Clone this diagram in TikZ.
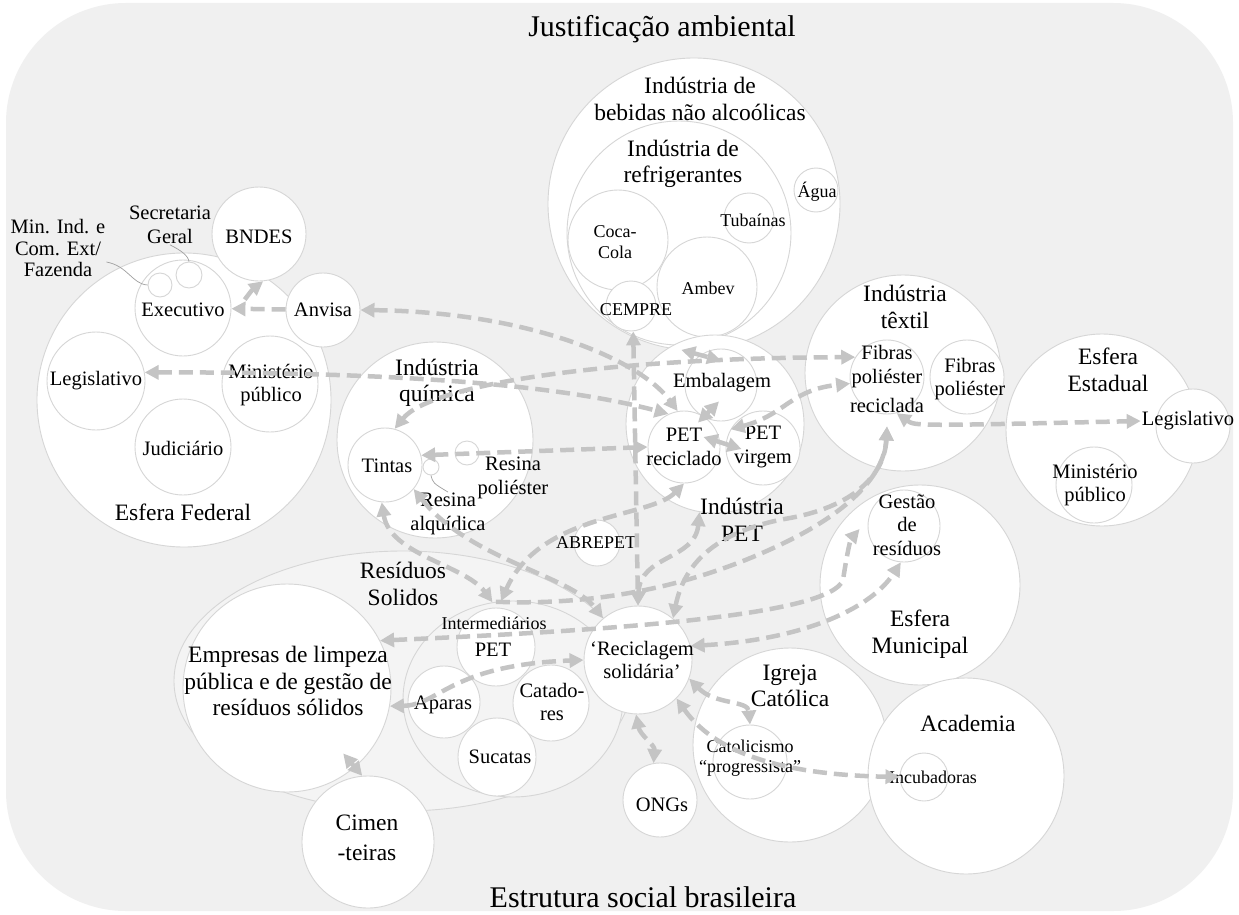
\documentclass[tikz,border=0pt]{standalone}
\usepackage{fontspec}
\setmainfont{Liberation Serif}
\usetikzlibrary{arrows.meta,shapes.geometric}
\definecolor{cloudgray}{RGB}{240,240,240}
\definecolor{wastegray}{RGB}{244,244,244}
\definecolor{rimgray}{RGB}{214,214,214}
\definecolor{flowgray}{RGB}{196,196,196}
\definecolor{leadgray}{RGB}{160,160,160}

\begin{document}
\begin{tikzpicture}[x=1pt, y=-1pt,
  bub/.style={circle, draw=rimgray, fill=white, line width=0.9pt, inner sep=0pt},
  ring/.style={ellipse, draw=rimgray, fill=wastegray, line width=0.9pt, inner sep=0pt},
  ttl/.style={inner sep=1pt, font=\fontsize{30}{34}\selectfont},
  big/.style={align=center, inner sep=1pt, font=\fontsize{23.5}{26.5}\selectfont},
  mid/.style={align=center, inner sep=1pt, font=\fontsize{20.5}{23.5}\selectfont},
  sml/.style={align=center, inner sep=1pt, font=\fontsize{18}{20.5}\selectfont},
  flow/.style={draw=flowgray, line width=4.5pt, dash pattern=on 14pt off 7pt},
  leader/.style={draw=leadgray, line width=0.7pt},
  >={Triangle[length=14pt,width=14pt]}]

% ---- page and cloud ----
% coordinates are pixels of a 1239x915 sheet, y grows downwards
\useasboundingbox (0,0) rectangle (1239,915);
\fill[white] (0,0) rectangle (1239,915);
\fill[cloudgray, rounded corners=120pt] (6,3) rectangle (1233,911);

% ===== ESFERA FEDERAL =====
\node[bub, minimum size=294pt] (fed) at (184,400) {};
\foreach \n/\x/\y/\d in {exec/183/308/96, minA/160/285/24, minB/189/275/26,
    bndes/259/234/94, anvisa/323/310/74, legF/96/381/98, mpF/270/384/96,
    jud/183/447/96} {
  \node[bub, minimum size=\d pt] (\n) at (\x,\y) {};
}

% ===== BEBIDAS NAO ALCOOLICAS =====
\node[bub, minimum size=292pt] (beb) at (694,204) {};
\node[bub, minimum size=224pt] (refr) at (679,233) {};
\foreach \n/\x/\y/\d in {coca/618/240/100, tuba/749/218/50, agua/816/190/44,
    ambev/707/287/100, cempre/631/306/50} {
  \node[bub, minimum size=\d pt] (\n) at (\x,\y) {};
}

% ===== INDUSTRIA PET / TEXTIL / ESTADUAL =====
\node[bub, minimum size=178pt] (pet) at (715,424) {};
\node[bub, minimum size=196pt] (tex) at (903,373) {};
\node[bub, minimum size=192pt] (est) at (1102,430) {};
\foreach \n/\x/\y/\d in {emb/721/385/72, petr/684/447/72, petv/763/448/74,
    fibr/887/377/74, fibp/967/377/74, legE/1193/426/74, mpE/1094/485/76} {
  \node[bub, minimum size=\d pt] (\n) at (\x,\y) {};
}

% ===== INDUSTRIA QUIMICA =====
\node[bub, minimum size=196pt] (qui) at (435,440) {};
\foreach \n/\x/\y/\d in {tintas/385/465/74, rpol/467/453/24, ralq/431/467/16,
    abre/597/543/46} {
  \node[bub, minimum size=\d pt] (\n) at (\x,\y) {};
}

% ===== RESIDUOS SOLIDOS =====
\node[ring, minimum width=458pt, minimum height=260pt] (res) at (403,681) {};
\node[ring, minimum width=220pt, minimum height=196pt] (inter) at (513,699) {};
\foreach \n/\x/\y/\d in {petI/496/647/78, aparas/444/702/72, catad/551/703/76,
    sucatas/497/757/78, emp/287/688/208, cim/368/842/132} {
  \node[bub, minimum size=\d pt] (\n) at (\x,\y) {};
}

% ===== RECICLAGEM AND NEIGHBOURS =====
\foreach \n/\x/\y/\d in {recic/638/660/108, ongs/660/800/74, igreja/790/745/194,
    catol/750/762/74, mun/920/585/200, gest/904/526/72, acad/966/776/196,
    incub/924/777/48} {
  \node[bub, minimum size=\d pt] (\n) at (\x,\y) {};
}

% ---- Labels ----
\node[ttl] (top-t) at (662,29) {Justificação ambiental};
\node[ttl] (bot-t) at (643,897) {Estrutura social brasileira};

\node[big] (fed-t) at (183,512) {Esfera Federal};
\node[mid] (exec-t) at (183,310) {Executivo};
\node[mid, font=\fontsize{20.5}{21.5}\selectfont] (min-t) at (58,248) {Min. Ind. e\\Com. Ext/\\Fazenda};
\node[mid] (sec-t) at (170,225) {Secretaria\\Geral};
\node[mid] (bndes-t) at (259,237) {BNDES};
\node[mid] (anvisa-t) at (323,310) {Anvisa};
\node[mid] (legF-t) at (96,381) {Legislativo};
\node[mid] (mpF-t) at (271,385) {Ministério\\público};
\node[mid] (jud-t) at (183,448) {Judiciário};

\node[big] (beb-t) at (700,99) {Indústria de\\bebidas não alcoólicas};
\node[big] (refr-t) at (683,164) {Indústria de\\refrigerantes};
\node[sml] (coca-t) at (615,242) {Coca-\\Cola};
\node[sml] (tuba-t) at (753,220) {Tubaínas};
\node[sml] (agua-t) at (817,192) {Água};
\node[sml] (ambev-t) at (708,288) {Ambev};
\node[sml] (cempre-t) at (636,310) {CEMPRE};

\node[big] (pet-t) at (742,520) {Indústria\\PET};
\node[mid] (emb-t) at (722,383) {Embalagem};
\node[mid] (petr-t) at (684,447) {PET\\reciclado};
\node[mid] (petv-t) at (763,447) {PET\\virgem};

\node[big] (tex-t) at (905,307) {Indústria\\têxtil};
\node[mid] (fibr-t) at (887,379) {Fibras\\poliéster\\[6pt]reciclada};
\node[mid] (fibp-t) at (970,379) {Fibras\\poliéster};

\node[big] (est-t) at (1108,370) {Esfera\\Estadual};
\node[mid] (legE-t) at (1188,421) {Legislativo};
\node[mid] (mpE-t) at (1095,485) {Ministério\\público};

\node[big] (qui-t) at (437,383) {Indústria\\química};
\node[mid] (tintas-t) at (387,466) {Tintas};
\node[mid] (rpol-t) at (513,478) {Resina\\poliéster};
\node[mid] (ralq-t) at (448,514) {Resina\\alquídica};
\node[sml] (abre-t) at (596,543) {ABREPET};

\node[big] (res-t) at (403,584) {Resíduos\\Solidos};
\node[sml] (inter-t) at (494,623) {Intermediários};
\node[mid] (petI-t) at (493,650) {PET};
\node[mid] (aparas-t) at (443,705) {Aparas};
\node[mid] (catad-t) at (552,702) {Catado-\\res};
\node[mid] (sucatas-t) at (500,757) {Sucatas};
\node[big] (emp-t) at (288,681) {Empresas de limpeza\\pública e de gestão de\\resíduos sólidos};
\node[big, font=\fontsize{23.5}{30}\selectfont] (cim-t) at (367,838) {Cimen\\-teiras};

\node[mid] (recic-t) at (642,660) {‘Reciclagem\\solidária’};
\node[mid] (ongs-t) at (662,805) {ONGs};
\node[big] (igreja-t) at (790,686) {Igreja\\Católica};
\node[sml] (catol-t) at (750,758) {Catolicismo\\“progressista”};
\node[big] (mun-t) at (920,634) {Esfera\\Municipal};
\node[mid] (gest-t) at (907,525) {Gestão\\de\\resíduos};
\node[big] (acad-t) at (968,723) {Academia};
\node[sml] (incub-t) at (933,777) {Incubadoras};

% ---- Leader lines ----
\draw[leader] ([yshift=-14pt]min-t.east) .. controls (128,266) and (132,284) .. (minA.west);
\draw[leader] (sec-t.south) .. controls (180,250) and (188,255) .. (minB.north);
\draw[leader] (ralq.south) .. controls (433,483) .. (ralq-t.north);

% ---- Flows (drawn over the texts) ----
% federal side
\draw[flow, ->] (anvisa) -- (exec);
\draw[flow, ->] ([xshift=14pt]exec.10) .. controls (252,290) .. (bndes.-85);
\draw[flow, <->] (anvisa.east) .. controls (530,312) and (640,360) .. (petr.100);
\draw[flow, <->] (legF.10) .. controls (400,372) and (560,385) .. (petr.115);

% quimica
\draw[flow, <->] (tintas.75) .. controls (430,385) and (600,358) .. (fibr.148);
\draw[flow, <->] (tintas.15) -- (petr.west);
\draw[flow, <->] (tintas.-95) .. controls (390,555) and (465,565) .. (inter.102);
\draw[flow, <->] (tintas.-40) .. controls (470,560) and (570,575) .. (recic.130);

% bebidas / PET
\draw[flow, <->] (cempre.-85) -- (recic.north);
\draw[flow, <->] (beb.-95) -- ([yshift=-12pt]emb.north);
\draw[flow, <->] ([xshift=14pt,yshift=-12pt]petr.north) -- ([xshift=-2pt,yshift=20pt]emb.south);
\draw[flow, <->] ([xshift=-17pt,yshift=10pt]petr.east) -- ([xshift=16pt,yshift=-1pt]petv.west);
\draw[flow, <->] (petv.150) .. controls (785,415) and (790,390) .. (fibr.190);
\draw[flow, <->] (petr.-90) .. controls (650,518) and (540,513) .. (inter.97);
\draw[flow, <->] (pet.-100) .. controls (695,560) and (640,555) .. (recic.north);

% textil
\draw[flow, <->] (fibr.-75) .. controls (915,426) .. (legE-t.west);
\draw[flow, <->] (recic.50) .. controls (685,560) and (720,530) .. (790,518)
  .. controls (860,505) and (885,470) .. ([yshift=-12pt]fibr.south);
\draw[flow, ->] (inter.100) .. controls (600,606) and (700,585) .. (790,540)
  .. controls (840,515) and (884,480) .. ([yshift=-12pt]fibr.south);

% residuos / municipal
\draw[flow, <->] (emp.27) .. controls (620,630) and (830,615) .. (843,580)
  .. controls (846,560) and (850,540) .. ([xshift=-8pt,yshift=-3pt]gest.west);
\draw[flow, <->] (recic.15) .. controls (800,640) and (870,610) .. (gest.-95);
\draw[flow, <->] (emp.-10) .. controls (440,705) and (450,665) .. (recic.west);
\draw[flow, <->] ([xshift=4pt,yshift=25pt]emp.-60) -- (cim.95);

% reciclagem solidaria
\draw[flow, <->] (recic.-92) .. controls (640,735) and (655,745) .. (ongs.100);
\draw[flow, <->] (recic.-20) .. controls (715,705) and (748,700) .. (catol.north);
\draw[flow, <->] (recic.-45) .. controls (720,760) and (800,775) .. (incub.west);

\end{tikzpicture}
\end{document}
